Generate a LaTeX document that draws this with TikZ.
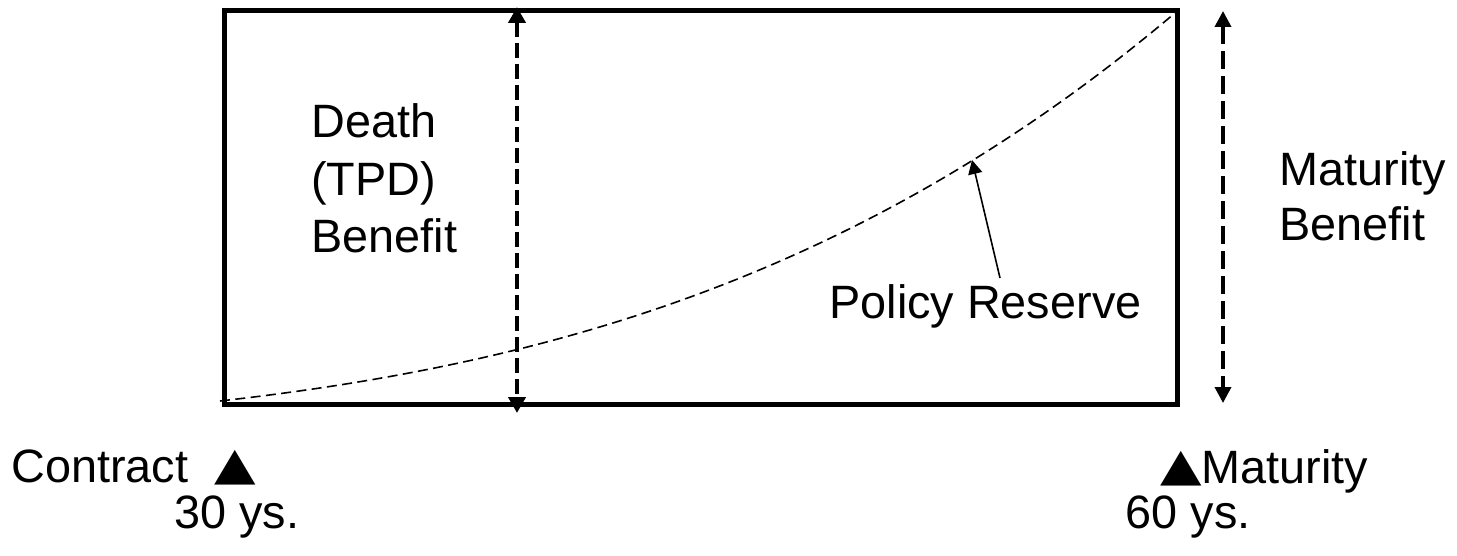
\documentclass[tikz,border=0pt]{standalone}
\usepackage{graphicx}
\usepackage{fontspec}
\setmainfont{Liberation Sans}
\newfontfamily\symfont{DejaVu Sans}
\newcommand{\tri}{\raisebox{1.5pt}{\scalebox{1}[0.84]{\symfont\fontsize{27}{28}\selectfont ▲}}}
\usetikzlibrary{arrows.meta}
\begin{document}
\begin{tikzpicture}[x=0.5pt,y=-0.5pt,
  lbl/.style={inner sep=0pt,font=\fontsize{23.4}{28}\selectfont},
  frame/.style={line width=2.5pt},
  benefit/.style={line width=2pt,dash pattern=on 7.5pt off 3pt,
     {Triangle[length=8pt,width=8.5pt]}-{Triangle[length=8pt,width=8.5pt]}},
  benefitR/.style={line width=1.8pt,dash pattern=on 9pt off 3.5pt,
     {Triangle[length=8pt,width=8pt]}-{Triangle[length=8pt,width=8pt]}},
  reserve/.style={line width=0.8pt,dash pattern=on 5pt off 2.7pt},
  pointer/.style={line width=0.8pt,-{Triangle[length=7pt,width=7pt]}}]
\useasboundingbox (0,0) rectangle (1457,556);
% frame
\coordinate (bl) at (224,404);
\coordinate (tr) at (1177,11);
\draw[frame] (bl) rectangle (tr);
% reserve curve
\coordinate (rs) at (220,401);
\coordinate (re) at (1175,13);
\draw[reserve] (rs) .. controls (538,365) and (857,282) .. (re);
% death benefit arrow
\coordinate (dtop) at (517,7);
\coordinate (dbot) at (517,413);
\draw[benefit] (dtop) -- (dbot);
% maturity benefit arrow
\coordinate (mtop) at (1223,11);
\coordinate (mbot) at (1223,403);
\draw[benefitR] (mtop) -- (mbot);
% labels
\node[lbl,anchor=base west] (d1) at (311,138) {Death};
\node[lbl,anchor=base west] (d2) at (311,195) {(TPD)};
\node[lbl,anchor=base west] (d3) at (311,252) {Benefit};
\node[lbl,anchor=base west] (m1) at (1279,185) {Maturity};
\node[lbl,anchor=base west] (m2) at (1279,241) {Benefit};
\node[lbl,anchor=base west] (pr) at (829,318) {Policy Reserve};
\coordinate (onc) at (972,160);
\coordinate (prtop) at (1000,278);
\draw[pointer] (prtop) -- (onc);
\node[lbl,anchor=base west] (c1) at (11,482) {Contract\hspace{0.55em}\tri};
\node[lbl,anchor=base west] (c2) at (174,528) {30 ys.};
\node[lbl,anchor=base west] (e1) at (1160,483) {\tri Maturity};
\node[lbl,anchor=base east] (e2) at (1251,528) {60 ys.};
\end{tikzpicture}
\end{document}
